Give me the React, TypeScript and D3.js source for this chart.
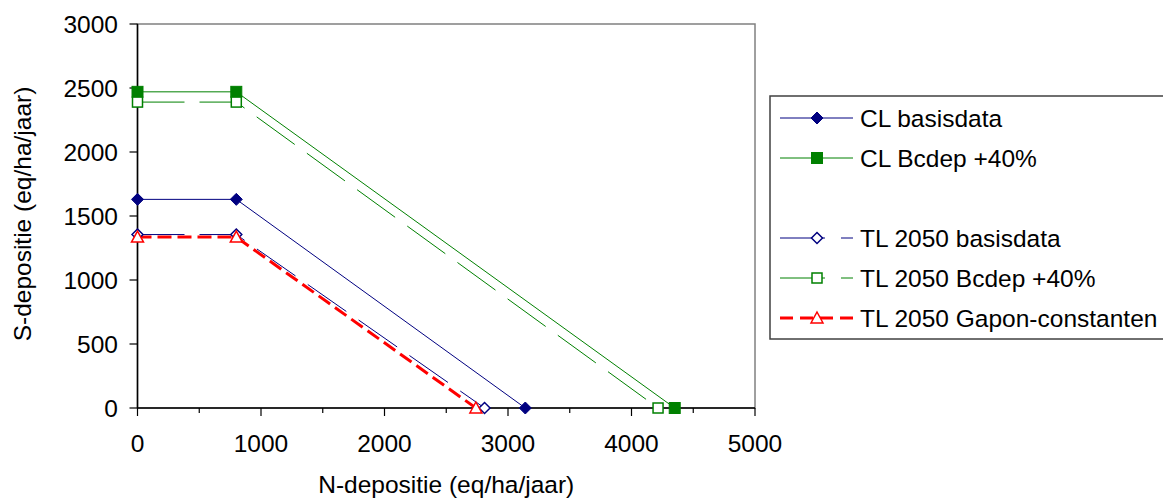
import React from "react";
import * as d3 from "d3";

const xTicks = [0, 1000, 2000, 3000, 4000, 5000];
const xMinorTicks = [500, 1500, 2500, 3500, 4500];
const yTicks = [0, 500, 1000, 1500, 2000, 2500, 3000];

const clBasisX = [0, 800, 3140];
const clBasisY = [1630, 1630, 0];
const clBcdepX = [0, 800, 4350];
const clBcdepY = [2470, 2470, 0];
const tlBasisX = [0, 800, 2810];
const tlBasisY = [1355, 1355, 0];
const tlBcdepX = [0, 800, 4215];
const tlBcdepY = [2390, 2390, 0];
const tlGaponX = [0, 800, 2740];
const tlGaponY = [1335, 1335, 0];

const seriesNames = [
  "CL basisdata",
  "CL Bcdep +40%",
  "",
  "TL 2050 basisdata",
  "TL 2050 Bcdep +40%",
  "TL 2050 Gapon-constanten",
];

type Marker = "diamondFilled" | "squareFilled" | "diamondOpen" | "squareOpen" | "triangleOpen";

interface Series {
  name: string;
  xs: number[];
  ys: number[];
  color: string;
  width: number;
  dash: string;
  legendDash: string;
  marker: Marker;
}

const series: Series[] = [
  { name: seriesNames[0], xs: clBasisX, ys: clBasisY, color: "#000080", width: 1, dash: "", legendDash: "", marker: "diamondFilled" },
  { name: seriesNames[1], xs: clBcdepX, ys: clBcdepY, color: "#008000", width: 1, dash: "", legendDash: "", marker: "squareFilled" },
  { name: seriesNames[3], xs: tlBasisX, ys: tlBasisY, color: "#000080", width: 1, dash: "47,15", legendDash: "45,16", marker: "diamondOpen" },
  { name: seriesNames[4], xs: tlBcdepX, ys: tlBcdepY, color: "#008000", width: 1, dash: "47,15", legendDash: "45,16", marker: "squareOpen" },
  { name: seriesNames[5], xs: tlGaponX, ys: tlGaponY, color: "#FF0000", width: 3, dash: "14,6", legendDash: "13,7", marker: "triangleOpen" },
];

const FONT = "Liberation Sans, Arial, sans-serif";
const FS = 24.5;

function MarkerShape({ type, x, y, color }: { type: Marker; x: number; y: number; color: string }) {
  switch (type) {
    case "diamondFilled":
      return <path d={`M${x},${y - 6}L${x + 6},${y}L${x},${y + 6}L${x - 6},${y}Z`} fill={color} stroke={color} strokeWidth={1} />;
    case "diamondOpen":
      return <path d={`M${x},${y - 5.5}L${x + 5.5},${y}L${x},${y + 5.5}L${x - 5.5},${y}Z`} fill="white" stroke={color} strokeWidth={1.5} />;
    case "squareFilled":
      return <rect x={x - 5.5} y={y - 5.5} width={11} height={11} fill={color} stroke={color} strokeWidth={1} />;
    case "squareOpen":
      return <rect x={x - 5} y={y - 5} width={10} height={10} fill="white" stroke={color} strokeWidth={1.5} />;
    case "triangleOpen":
      return <path d={`M${x},${y - 6}L${x + 6},${y + 5}L${x - 6},${y + 5}Z`} fill="white" stroke={color} strokeWidth={1.5} />;
  }
}

export default function App() {
  const W = 1163;
  const H = 500;
  const x = d3.scaleLinear().domain([0, 5000]).range([137.5, 755]);
  const y = d3.scaleLinear().domain([0, 3000]).range([408, 24]);
  const line = d3
    .line<[number, number]>()
    .x((d) => x(d[0]))
    .y((d) => y(d[1]));

  const legendRows = [0, 1, 3, 4, 5];
  const legendY = (i: number) => 118 + i * 40;

  return (
    <svg width={W} height={H} style={{ position: "absolute", left: 0, top: 0, background: "white" }}>
      <rect x={0} y={0} width={W} height={H} fill="white" />
      <rect x={x(0)} y={y(3000)} width={x(5000) - x(0)} height={y(0) - y(3000)} fill="none" stroke="#808080" strokeWidth={1.5} />

      {series.map((s, i) => (
        <path
          key={"l" + i}
          d={line(s.xs.map((v, j) => [v, s.ys[j]] as [number, number])) || ""}
          fill="none"
          stroke={s.color}
          strokeWidth={s.width}
          strokeDasharray={s.dash || undefined}
        />
      ))}

      <line x1={x(0)} x2={x(0)} y1={y(0)} y2={y(3000)} stroke="black" strokeWidth={1.5} />
      <line x1={x(0)} x2={x(5000)} y1={y(0)} y2={y(0)} stroke="black" strokeWidth={1.5} />
      {yTicks.map((t) => (
        <g key={"yt" + t}>
          <line x1={x(0) - 8} x2={x(0)} y1={y(t)} y2={y(t)} stroke="black" strokeWidth={1.2} />
          <text x={118} y={y(t)} dy="0.36em" textAnchor="end" fontFamily={FONT} fontSize={FS}>
            {t}
          </text>
        </g>
      ))}
      {xTicks.map((t) => (
        <g key={"xt" + t}>
          <line x1={x(t)} x2={x(t)} y1={y(0)} y2={y(0) + 8} stroke="black" strokeWidth={1.2} />
          <text x={x(t)} y={452} textAnchor="middle" fontFamily={FONT} fontSize={FS}>
            {t}
          </text>
        </g>
      ))}
      {xMinorTicks.map((t) => (
        <line key={"xm" + t} x1={x(t)} x2={x(t)} y1={y(0)} y2={y(0) + 5} stroke="black" strokeWidth={1.2} />
      ))}

      {series.map((s, i) =>
        s.xs.map((v, j) => (
          <MarkerShape key={"m" + i + "-" + j} type={s.marker} x={x(v)} y={y(s.ys[j])} color={s.color} />
        ))
      )}

      <text x={x(2500) - 0} y={493} textAnchor="middle" fontFamily={FONT} fontSize={FS}>
        N-depositie (eq/ha/jaar)
      </text>
      <text transform={`translate(31,${214}) rotate(-90)`} textAnchor="middle" fontFamily={FONT} fontSize={FS}>
        S-depositie (eq/ha/jaar)
      </text>

      <rect x={770} y={96} width={420} height={243} fill="white" stroke="#404040" strokeWidth={1.5} />
      {legendRows.map((ri, k) => {
        const s = series[k];
        const ly = legendY(ri);
        return (
          <g key={"lg" + k}>
            <line
              x1={780}
              x2={853}
              y1={ly}
              y2={ly}
              stroke={s.color}
              strokeWidth={s.width}
              strokeDasharray={s.legendDash || undefined}
            />
            <MarkerShape type={s.marker} x={817} y={ly} color={s.color} />
            <text x={860} y={ly} dy="0.36em" fontFamily={FONT} fontSize={FS}>
              {s.name}
            </text>
          </g>
        );
      })}
    </svg>
  );
}
